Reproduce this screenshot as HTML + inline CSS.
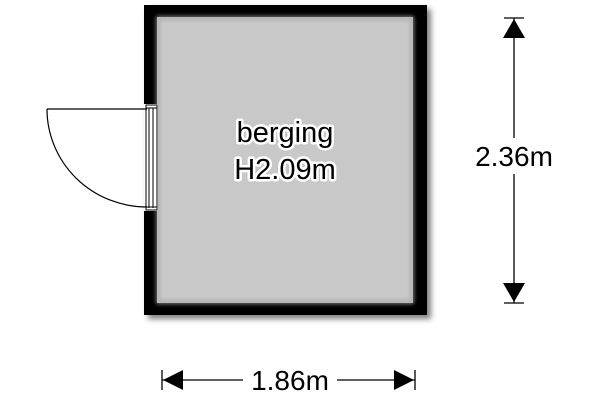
<!DOCTYPE html>
<html><head><style>html,body{margin:0;padding:0;background:#fff;}svg{display:block}</style></head>
<body>
<svg width="600" height="400" viewBox="0 0 600 400" xmlns="http://www.w3.org/2000/svg">
<defs>
<filter id="sh" x="-10%" y="-10%" width="130%" height="130%"><feGaussianBlur in="SourceAlpha" stdDeviation="3"/><feOffset dx="4" dy="4"/><feComponentTransfer><feFuncA type="linear" slope="0.5"/></feComponentTransfer><feMerge><feMergeNode/><feMergeNode in="SourceGraphic"/></feMerge></filter>
<filter id="ish"><feGaussianBlur stdDeviation="2"/></filter>
</defs>
<rect x="144" y="5" width="283" height="310" fill="#000" filter="url(#sh)"/>
<rect x="157" y="17" width="256" height="286" fill="#c8c8c8"/>
<rect x="158" y="18" width="254" height="284" fill="none" stroke="#a8a8a8" stroke-width="3" filter="url(#ish)"/>
<rect x="144" y="104" width="14" height="107" fill="#fff"/>
<rect x="146" y="105" width="11" height="105" fill="#fff" stroke="#000" stroke-width="1"/>
<line x1="149" y1="108" x2="149" y2="208" stroke="#000" stroke-width="1"/>
<line x1="153" y1="108" x2="153" y2="208" stroke="#000" stroke-width="1"/>
<line x1="146" y1="108" x2="157" y2="108" stroke="#000" stroke-width="1"/>
<line x1="146" y1="207" x2="157" y2="207" stroke="#000" stroke-width="1"/>
<line x1="47" y1="109" x2="147" y2="109" stroke="#000" stroke-width="1.2"/>
<path d="M47 109 A100 98 0 0 0 147 207" fill="none" stroke="#000" stroke-width="1.2"/>
<g font-family="Liberation Sans, sans-serif" font-size="29" text-anchor="middle" fill="#000">
<text x="285" y="142" stroke="#fff" stroke-width="5" stroke-linejoin="round">berging</text>
<text x="285" y="142">berging</text>
<text x="285" y="179" stroke="#fff" stroke-width="5" stroke-linejoin="round">H2.09m</text>
<text x="285" y="179">H2.09m</text>
</g>
<g stroke="#000" stroke-width="1.3">
<line x1="514" y1="18" x2="514" y2="138"/>
<line x1="514" y1="174" x2="514" y2="303"/>
<line x1="504" y1="18" x2="524" y2="18"/>
<line x1="504" y1="303" x2="524" y2="303"/>
<line x1="162" y1="370" x2="162" y2="390"/>
<line x1="415" y1="370" x2="415" y2="390"/>
<line x1="162" y1="380" x2="243" y2="380"/>
<line x1="337" y1="380" x2="415" y2="380"/>
</g>
<polygon points="514,19 503,38 525,38" fill="#000"/>
<polygon points="514,302 503,283 525,283" fill="#000"/>
<polygon points="163,380 183,370 183,390" fill="#000"/>
<polygon points="414,380 394,370 394,390" fill="#000"/>
<g font-family="Liberation Sans, sans-serif" font-size="28" text-anchor="middle" fill="#000">
<text x="514" y="166">2.36m</text>
<text x="290" y="390">1.86m</text>
</g>
</svg>
</body></html>
